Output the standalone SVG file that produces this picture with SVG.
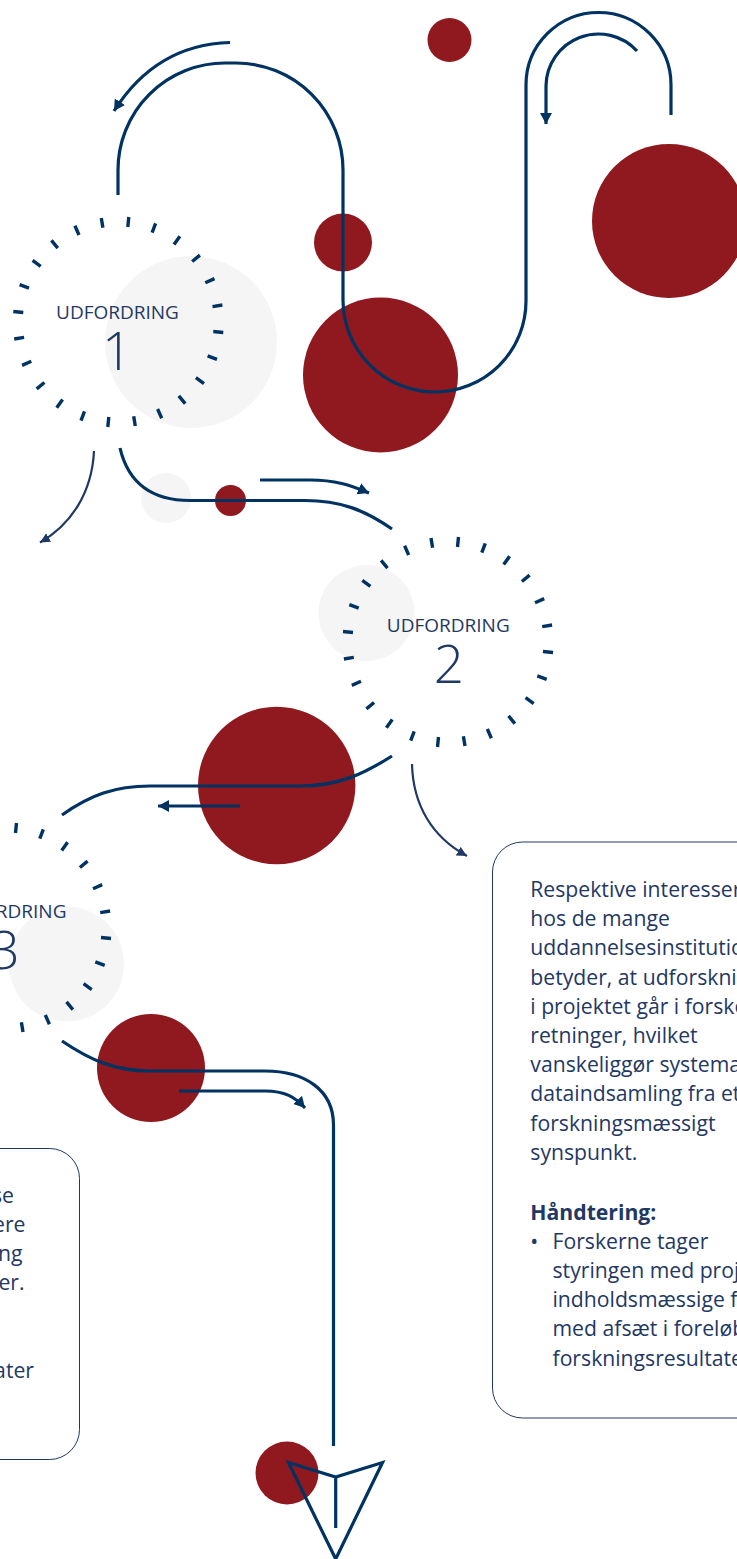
<svg xmlns="http://www.w3.org/2000/svg" width="737" height="1559" viewBox="0 0 737 1559">
<style>
.t{font-family:"Open Sans","Noto Sans","Liberation Sans",sans-serif;fill:#1f3864}
.lab{font-size:19px;text-anchor:middle}
.num{font-size:53px;font-weight:300;text-anchor:middle}
.body{font-size:21.200px}
.r{fill:#8f191e}
.g{fill:#f5f5f5}
.p{fill:none;stroke:#003262;stroke-width:3.200}
.a{fill:none;stroke:#1f3864;stroke-width:2.200}
.tick{stroke:#003262;stroke-width:3.400;fill:none}
.card{fill:none;stroke:#1f3864;stroke-width:1}
</style>
<defs>
<marker id="ah" markerUnits="userSpaceOnUse" markerWidth="14" markerHeight="14" refX="11" refY="6" orient="auto"><path d="M0 0L11 6L0 12Z" fill="#003262"/></marker>
<marker id="ah2" markerUnits="userSpaceOnUse" markerWidth="12" markerHeight="12" refX="10" refY="5" orient="auto"><path d="M0 0L10 5L0 10Z" fill="#1f3864"/></marker>
<g id="ring"><path class="tick" d="M9.500 -95L10.500 -105M33.800 -89.300L37.300 -98.700M55.700 -77.600L61.600 -85.700M73.900 -60.500L81.600 -66.900M87 -39.300L96.200 -43.400M94.200 -15.400L104.100 -17M95 9.500L105 10.500M89.300 33.800L98.700 37.300M77.600 55.700L85.700 61.600M60.500 73.900L66.900 81.600M39.300 87L43.400 96.200M15.400 94.200L17 104.100M-9.500 95L-10.500 105M-33.800 89.300L-37.300 98.700M-55.700 77.600L-61.600 85.700M-73.900 60.500L-81.600 66.900M-87 39.300L-96.200 43.400M-94.200 15.400L-104.100 17M-95 -9.500L-105 -10.500M-89.300 -33.800L-98.700 -37.300M-77.600 -55.700L-85.700 -61.600M-60.500 -73.900L-66.900 -81.600M-39.300 -87L-43.400 -96.200M-15.400 -94.200L-17 -104.100"/></g>
</defs>
<g id="circles">
<circle class="r" cx="449.500" cy="40" r="22"/>
<circle class="r" cx="669" cy="221" r="77"/>
<circle class="r" cx="343" cy="242.500" r="29"/>
<circle class="r" cx="380.500" cy="375" r="77.500"/>
<circle class="g" cx="191" cy="342" r="86"/>
<circle class="g" cx="166" cy="498" r="25"/>
<circle class="r" cx="230.500" cy="500.500" r="15.500"/>
<circle class="g" cx="366.500" cy="613" r="48"/>
<circle class="r" cx="276.700" cy="785.500" r="78.700"/>
<circle class="g" cx="66.500" cy="964" r="57.500"/>
<circle class="r" cx="151" cy="1068" r="54"/>
<circle class="r" cx="287" cy="1473" r="31.500"/>
</g>
<g id="connectors">
<path class="p" d="M118 195V170A107 107 0 0 1 225 63H236A107 107 0 0 1 343 170V300A92 92 0 0 0 435 392A91 91 0 0 0 526 301V85A72.500 72.500 0 0 1 671 85V115"/>
<path class="p" marker-end="url(#ah)" d="M230 42.500C178 44 140 70 114 111"/>
<path class="p" marker-end="url(#ah)" d="M637 51A52.400 52.400 0 0 0 546 86V124"/>
<path class="a" marker-end="url(#ah2)" d="M94 451C92 492 72 524 40 542.500"/>
<path class="p" d="M120 448C128 482 150 500.500 190 500.500H305C340 500.500 365 510 392 529"/>
<path class="p" marker-end="url(#ah)" d="M260 480H310C335 480 350 485 369 493"/>
<path class="p" d="M392 756C365 773 340 786 300 786H150C115 786 90 795 62 815"/>
<path class="p" marker-end="url(#ah)" d="M240 806H158"/>
<path class="a" marker-end="url(#ah2)" d="M412 764C413 805 432 837 467 856"/>
<path class="p" d="M62 1041C90 1060 115 1071 150 1071H265C305 1071 333.500 1090 333.500 1125V1446"/>
<path class="p" marker-end="url(#ah)" d="M179 1091H265C285 1091 295 1097 305 1108"/>
</g>
<g id="node-1"><use href="#ring" x="118.300" y="322"/><text class="t lab" x="117.500" y="319.300">UDFORDRING</text><text class="t num" x="117.200" y="370">1</text></g>
<g id="node-2"><use href="#ring" x="448" y="642"/><text class="t lab" x="448.300" y="631.700">UDFORDRING</text><text class="t num" x="448.800" y="682.700">2</text></g>
<g id="node-3"><use href="#ring" x="6" y="928"/><text class="t lab" x="5" y="918.300">UDFORDRING</text><text class="t num" x="4.500" y="968.500">3</text></g>
<g id="card-left"><rect class="card" x="-60" y="1148.500" width="139.500" height="311" rx="30"/>
<text class="t body" text-anchor="end" x="14" y="1203">se</text>
<text class="t body" text-anchor="end" x="25.500" y="1232">ere</text>
<text class="t body" text-anchor="end" x="22.500" y="1261">ng</text>
<text class="t body" text-anchor="end" x="24.500" y="1290">er.</text>
<text class="t body" text-anchor="end" x="34" y="1378">ater</text></g>
<g id="card-right"><rect class="card" x="492.500" y="842" width="300" height="576" rx="30"/>
<text class="t body" x="530.300" y="897">Respektive interesser</text>
<text class="t body" x="530.300" y="926.200">hos de mange</text>
<text class="t body" x="530.300" y="955.400">uddannelsesinstitutio</text>
<text class="t body" x="530.300" y="984.600">betyder, at udforskni</text>
<text class="t body" x="530.300" y="1013.800">i projektet går i forske</text>
<text class="t body" x="530.300" y="1043">retninger, hvilket</text>
<text class="t body" x="530.300" y="1072.200">vanskeliggør systema</text>
<text class="t body" x="530.300" y="1101.400">dataindsamling fra et</text>
<text class="t body" x="530.300" y="1130.600">forskningsmæssigt</text>
<text class="t body" x="530.300" y="1159.800">synspunkt.</text>
<text class="t body" x="530.300" y="1219.800" font-weight="700">Håndtering:</text>
<text class="t body" x="530.300" y="1248.800">•</text>
<text class="t body" x="552.500" y="1248.800">Forskerne tager</text>
<text class="t body" x="552.500" y="1278">styringen med proj</text>
<text class="t body" x="552.500" y="1307.200">indholdsmæssige f</text>
<text class="t body" x="552.500" y="1336.400">med afsæt i foreløb</text>
<text class="t body" x="552.500" y="1365.600">forskningsresultate</text></g>
<g id="plane"><path class="p" d="M288.500 1462.500L335.700 1477L382.500 1462.500L335.700 1559ZM335.700 1477V1528"/></g>
</svg>
